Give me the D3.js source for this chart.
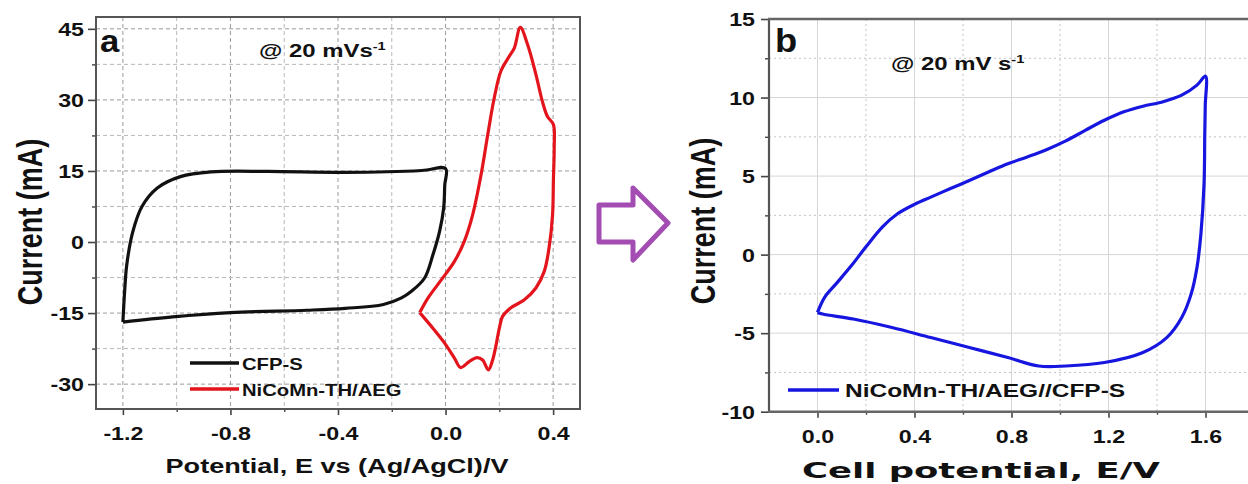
<!DOCTYPE html>
<html><head><meta charset="utf-8">
<script src="https://cdn.jsdelivr.net/npm/d3@7"></script>
<style>
body{margin:0;background:#fff;}
svg{display:block;font-family:"Liberation Sans",Arial,sans-serif;font-weight:bold;}
</style>
</head><body>
<svg id="c" width="1248" height="484"></svg>
<script>
// ---------- data ----------
// Panel a: CFP-S (black loop)
const cfpE = [-1.2,-1.193,-1.186,-1.164,-1.129,-1.072,-0.986,-0.872,-0.66,-0.373,-0.088,0.0,-0.003,-0.007,-0.022,-0.047,-0.078,-0.127,-0.164,-0.231,-0.373,-0.516,-0.8,-1.015,-1.2];
const cfpI = [-16.9,-10,-5.0,2.0,7.5,11.4,13.8,14.8,14.9,14.7,15.1,15.5,12,7.2,2.3,-2.7,-7.6,-10.4,-11.8,-13.2,-14.0,-14.4,-14.9,-15.8,-16.9];
// Panel a: NiCoMn-TH/AEG (red loop)
const nicE = [-0.096,-0.065,-0.016,0.033,0.07,0.101,0.132,0.157,0.181,0.206,0.237,0.256,0.278,0.305,0.336,0.36,0.379,0.401,0.404,0.401,0.398,0.385,0.367,0.336,0.293,0.243,0.212,0.2,0.188,0.175,0.159,0.138,0.117,0.089,0.056,0.033,-0.004,-0.047,-0.096];
const nicI = [-14.9,-11.8,-8.0,-4.1,0.2,5.8,14.2,22.7,30.4,36.1,39.2,41.0,45.3,41.7,35.4,29.7,26.5,24.8,19.9,12.8,5.8,-1.2,-6.2,-9.7,-12.2,-13.9,-15.7,-18.2,-21.7,-24.9,-27.0,-24.9,-24.4,-25.2,-26.5,-24.5,-21.3,-18.2,-14.9];
// Panel b: NiCoMn-TH/AEG//CFP-S (blue loop)
const devE = [0,0.03,0.08,0.14,0.2,0.27,0.33,0.4,0.467,0.546,0.626,0.705,0.785,0.865,0.944,1.024,1.104,1.183,1.263,1.342,1.422,1.502,1.565,1.6,1.599,1.597,1.594,1.581,1.565,1.541,1.502,1.439,1.342,1.183,1.024,0.912,0.785,0.626,0.467,0.307,0.148,0.021,0];
const devI = [-3.68,-2.7,-1.8,-0.7,0.5,1.8,2.6,3.2,3.66,4.19,4.72,5.26,5.79,6.22,6.68,7.24,7.91,8.55,9.09,9.45,9.72,10.15,10.79,11.36,9.5,7.7,4.5,1.3,-0.8,-2.5,-4.0,-5.3,-6.23,-6.87,-7.09,-7.09,-6.55,-5.91,-5.28,-4.64,-4.1,-3.78,-3.68];

const aXTicks = [-1.2,-0.8,-0.4,0.0,0.4];
const aXMinor = [-1.0,-0.6,-0.2,0.2];
const aYTicks = [-30,-15,0,15,30,45];
const aYMinor = [-22.5,-7.5,7.5,22.5,37.5];
const bXTicks = [0.0,0.4,0.8,1.2,1.6];
const bXMinor = [0.2,0.6,1.0,1.4];
const bYTicks = [-10,-5,0,5,10,15];
const bYMinor = [-7.5,-2.5,2.5,7.5,12.5];

const legendA = ["CFP-S","NiCoMn-TH/AEG"];
const legendB = ["NiCoMn-TH/AEG//CFP-S"];
const colA = ["#111111","#e3141b"];
const colB = "#1616e0";

// ---------- drawing ----------
const svg = d3.select("#c");
const SX = 1.29; // horizontal glyph stretch of the reference

function stext(g, x, y, str, size, anchor, sx, fam){
  const t = g.append("text")
    .attr("transform", `translate(${x},${y}) scale(${sx},1)`)
    .attr("text-anchor", anchor || "start")
    .attr("font-size", size)
    .attr("fill", "#111")
    .text(str);
  if (fam) t.attr("font-family", fam);
  return t;
}

// Scales
const xa = d3.scaleLinear().domain([-1.3, 0.5]).range([96, 580]);
const ya = d3.scaleLinear().domain([-35.25, 47.5]).range([409, 17]);
const xb = d3.scaleLinear().domain([-0.2, 1.8]).range([769, 1254]);
const yb = d3.scaleLinear().domain([-10, 15]).range([411.7, 19]);

// ---- Panel a grid ----
const ga = svg.append("g");
const gridA = ga.append("g");
[...aXTicks, ...aXMinor].forEach(v => {
  gridA.append("line").attr("x1", xa(v)).attr("x2", xa(v)).attr("y1", 17).attr("y2", 409)
    .attr("stroke", aXTicks.includes(v) ? "#9a9a9a" : "#b8b8b8").attr("stroke-width", 1)
    .attr("stroke-dasharray", "4,3");
});
[...aYTicks, ...aYMinor].forEach(v => {
  gridA.append("line").attr("x1", 96).attr("x2", 580).attr("y1", ya(v)).attr("y2", ya(v))
    .attr("stroke", aYTicks.includes(v) ? "#9a9a9a" : "#b8b8b8").attr("stroke-width", 1)
    .attr("stroke-dasharray", "4,3");
});

// ---- Panel b grid ----
const gb = svg.append("g");
bXTicks.forEach(v => gb.append("line").attr("x1", xb(v)).attr("x2", xb(v)).attr("y1", 19).attr("y2", 411.7)
  .attr("stroke", "#d6d6d6").attr("stroke-width", 1));
bXMinor.forEach(v => gb.append("line").attr("x1", xb(v)).attr("x2", xb(v)).attr("y1", 19).attr("y2", 411.7)
  .attr("stroke", "#c4c4c4").attr("stroke-width", 1).attr("stroke-dasharray", "2,3"));
bYTicks.forEach(v => gb.append("line").attr("x1", 769).attr("x2", 1248).attr("y1", yb(v)).attr("y2", yb(v))
  .attr("stroke", "#d6d6d6").attr("stroke-width", 1));
bYMinor.forEach(v => gb.append("line").attr("x1", 769).attr("x2", 1248).attr("y1", yb(v)).attr("y2", yb(v))
  .attr("stroke", "#c4c4c4").attr("stroke-width", 1).attr("stroke-dasharray", "2,3"));

// ---- Axes helper ----
function leftAxis(g, y, x0, major, minor, fmt, gap, sx, size){
  const ax = g.append("g").attr("transform", `translate(${x0},0)`)
    .call(d3.axisLeft(y).tickValues(major).tickSizeInner(8).tickSizeOuter(0).tickFormat(fmt));
  ax.select(".domain").remove();
  ax.attr("font-family", null).attr("font-size", null);
  ax.selectAll("line").attr("stroke", "#444").attr("stroke-width", 1.6);
  ax.selectAll("text").attr("x", -gap / sx).attr("transform", `scale(${sx},1)`)
    .attr("font-size", size).attr("fill", "#111").attr("dy", "0.36em");
  const mi = g.append("g").attr("transform", `translate(${x0},0)`)
    .call(d3.axisLeft(y).tickValues(minor).tickSizeInner(4).tickSizeOuter(0).tickFormat(""));
  mi.select(".domain").remove();
  mi.selectAll("line").attr("stroke", "#444").attr("stroke-width", 1.4);
}
function bottomAxis(g, x, y0, major, minor, fmt, base, sx, size){
  const ax = g.append("g").attr("transform", `translate(0,${y0})`)
    .call(d3.axisBottom(x).tickValues(major).tickSizeInner(6).tickSizeOuter(0).tickFormat(fmt));
  ax.select(".domain").remove();
  ax.attr("font-family", null).attr("font-size", null);
  ax.selectAll("line").attr("stroke", "#444").attr("stroke-width", 1.6);
  ax.selectAll("text").attr("y", base).attr("dy", 0).attr("transform", `scale(${sx},1)`)
    .attr("font-size", size).attr("fill", "#111");
  const mi = g.append("g").attr("transform", `translate(0,${y0})`)
    .call(d3.axisBottom(x).tickValues(minor).tickSizeInner(3).tickSizeOuter(0).tickFormat(""));
  mi.select(".domain").remove();
  mi.selectAll("line").attr("stroke", "#444").attr("stroke-width", 1.4);
}

// Panel a axes and frame
leftAxis(ga, ya, 96, aYTicks, aYMinor, d => String(d), 12, SX, 18);
bottomAxis(ga, xa, 409, aXTicks, aXMinor, d => d.toFixed(1), 31, SX, 18);
ga.append("rect").attr("x", 96).attr("y", 17).attr("width", 484).attr("height", 392)
  .attr("fill", "none").attr("stroke", "#555").attr("stroke-width", 2);

// Panel b axes and frame
leftAxis(gb, yb, 769, bYTicks, bYMinor, d => String(d), 14, SX, 18);
bottomAxis(gb, xb, 411.7, bXTicks, bXMinor, d => d.toFixed(1), 31.5, SX, 18);
gb.append("line").attr("x1", 769).attr("x2", 769).attr("y1", 19).attr("y2", 411.7).attr("stroke", "#555").attr("stroke-width", 2.2);
gb.append("line").attr("x1", 768).attr("x2", 1248).attr("y1", 19).attr("y2", 19).attr("stroke", "#666").attr("stroke-width", 2.5);
gb.append("line").attr("x1", 768).attr("x2", 1248).attr("y1", 411.7).attr("y2", 411.7).attr("stroke", "#666").attr("stroke-width", 2.5);

// ---- Curves ----
const lineA = d3.line().x(d => xa(d[0])).y(d => ya(d[1])).curve(d3.curveCatmullRom.alpha(0.5));
const lineB = d3.line().x(d => xb(d[0])).y(d => yb(d[1])).curve(d3.curveCatmullRom.alpha(0.5));
ga.append("path").datum(cfpE.map((e, i) => [e, cfpI[i]])).attr("d", lineA)
  .attr("fill", "none").attr("stroke", colA[0]).attr("stroke-width", 3.2).attr("stroke-linejoin", "round");
ga.append("path").datum(nicE.map((e, i) => [e, nicI[i]])).attr("d", lineA)
  .attr("fill", "none").attr("stroke", colA[1]).attr("stroke-width", 3.2).attr("stroke-linejoin", "round");
gb.append("path").datum(devE.map((e, i) => [e, devI[i]])).attr("d", lineB)
  .attr("fill", "none").attr("stroke", colB).attr("stroke-width", 3.2).attr("stroke-linejoin", "round");

// ---- Legends ----
const legA = ga.append("g");
legendA.forEach((name, i) => {
  const yy = [363, 389][i];
  legA.append("line").attr("x1", 190).attr("x2", 239).attr("y1", yy).attr("y2", yy)
    .attr("stroke", colA[i]).attr("stroke-width", 3.5);
  stext(legA, 242, yy + 7, name, 17, "start", 1.19);
});
const legB = gb.append("g");
legendB.forEach(name => {
  legB.append("line").attr("x1", 788).attr("x2", 839).attr("y1", 390).attr("y2", 390)
    .attr("stroke", colB).attr("stroke-width", 3.5);
  stext(legB, 845, 397, name, 19, "start", 1.29);
});

// ---- Annotations ----
function rate(g, x, y, main){
  const t = stext(g, x, y, "", 18, "start", 1.33);
  t.append("tspan").text(main);
  t.append("tspan").attr("font-size", 11).attr("dy", -7).text("-1");
}
rate(ga, 259, 57, "@ 20 mVs");
rate(gb, 891, 70, "@ 20 mV s");
stext(ga, 100, 52, "a", 31, "start", 1.12);
stext(gb, 775, 52, "b", 33, "start", 1.1);

// ---- Axis titles ----
stext(ga, 337, 473, "Potential, E vs (Ag/AgCl)/V", 21, "middle", SX);
stext(gb, 981, 478, "Cell potential, E/V", 22, "middle", 1, "DejaVu Sans")
  .attr("textLength", 358).attr("lengthAdjust", "spacingAndGlyphs");
[[42, 222, ga], [715, 221, gb]].forEach(([x, y, g]) => {
  g.append("text").attr("transform", `translate(${x},${y}) scale(${SX},1) rotate(-90)`)
    .attr("text-anchor", "middle").attr("font-size", 27).attr("fill", "#111").text("Current (mA)");
});

// ---- Arrow between panels ----
svg.append("polygon")
  .attr("points", "599,205 633,205 633,188 668,223 633,260 633,242 599,242")
  .attr("fill", "none").attr("stroke", "#a34db3").attr("stroke-width", 5).attr("stroke-linejoin", "round");
</script>
</body></html>
